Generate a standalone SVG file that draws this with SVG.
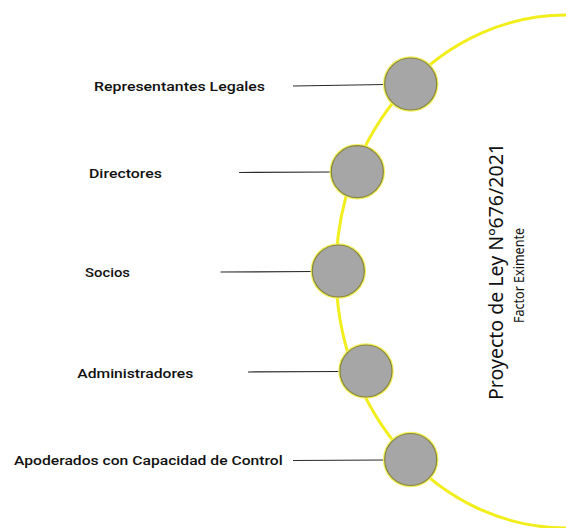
<svg xmlns="http://www.w3.org/2000/svg" width="566" height="528" viewBox="0 0 566 528">
<style>
.lbl{font-family:Roboto,"Liberation Sans",Arial,sans-serif;font-size:13.5px;font-weight:500;fill:#111}
.halo{fill:#f3ef5a}
.dot{fill:#a6a6a6;stroke:#85853f;stroke-width:1.2}
.conn{stroke:#2b2b2b;stroke-width:1.2;fill:none}
.title{font-family:"Noto Sans","Liberation Sans",Arial,sans-serif;fill:#111}
</style>
<rect width="566" height="528" fill="#ffffff"/>
<path d="M566,15 A230,256.5 0 0 0 566,528" fill="none" stroke="#f2ee1c" stroke-width="3"/>
<g id="connectors">
<line class="conn" x1="293" y1="86" x2="385" y2="84.5"/>
<line class="conn" x1="239" y1="172.5" x2="332" y2="172"/>
<line class="conn" x1="220.5" y1="272" x2="313" y2="271.5"/>
<line class="conn" x1="248" y1="372" x2="340" y2="371.5"/>
<line class="conn" x1="293" y1="460.5" x2="385" y2="460"/>
</g>
<g id="representantes">
<circle class="halo" cx="410.7" cy="84" r="27.8"/>
<circle class="dot" cx="410.7" cy="84" r="26"/>
<text class="lbl" x="94" y="90.5" textLength="171" lengthAdjust="spacingAndGlyphs">Representantes Legales</text>
</g>
<g id="directores">
<circle class="halo" cx="357.3" cy="171.7" r="27.8"/>
<circle class="dot" cx="357.3" cy="171.7" r="26"/>
<text class="lbl" x="89" y="178.3" textLength="73" lengthAdjust="spacingAndGlyphs">Directores</text>
</g>
<g id="socios">
<circle class="halo" cx="338.3" cy="271" r="27.8"/>
<circle class="dot" cx="338.3" cy="271" r="26"/>
<text class="lbl" x="85" y="277.3" textLength="45" lengthAdjust="spacingAndGlyphs">Socios</text>
</g>
<g id="administradores">
<circle class="halo" cx="366" cy="371" r="27.8"/>
<circle class="dot" cx="366" cy="371" r="26"/>
<text class="lbl" x="77.3" y="377.7" textLength="116" lengthAdjust="spacingAndGlyphs">Administradores</text>
</g>
<g id="apoderados">
<circle class="halo" cx="410.7" cy="459.5" r="27.8"/>
<circle class="dot" cx="410.7" cy="459.5" r="26"/>
<text class="lbl" x="14" y="465" textLength="268.7" lengthAdjust="spacingAndGlyphs">Apoderados con Capacidad de Control</text>
</g>
<g id="titulo">
<text class="title" transform="translate(503,271.5) rotate(-90)" text-anchor="middle" font-size="19" textLength="257" lengthAdjust="spacingAndGlyphs">Proyecto de Ley Nº676/2021</text>
<text class="title" transform="translate(524,275.5) rotate(-90)" text-anchor="middle" font-size="13.5" textLength="95" lengthAdjust="spacingAndGlyphs">Factor Eximente</text>
</g>
</svg>
